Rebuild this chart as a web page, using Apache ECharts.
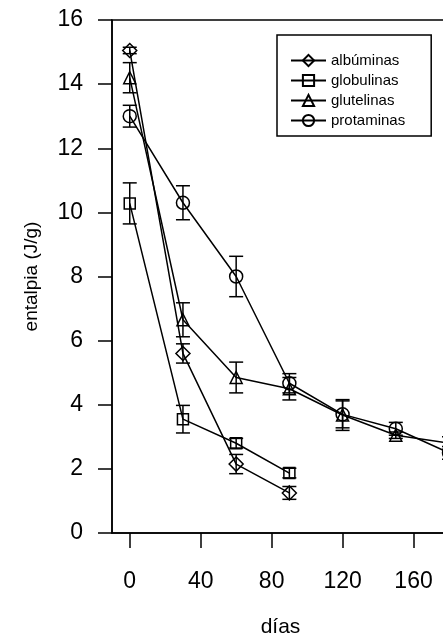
<!DOCTYPE html>
<html>
<head>
<meta charset="utf-8">
<script src="https://cdn.jsdelivr.net/npm/echarts@6/dist/echarts.min.js"></script>
<style>
html,body{margin:0;padding:0;background:#fff;}
#chart{width:443px;height:634px;}
</style>
</head>
<body>
<div id="chart"></div>
<script>
// ---- data ----
const days = [0, 30, 60, 90, 120, 150, 180];
const xTicks = [0, 40, 80, 120, 160];
const yTicks = [0, 2, 4, 6, 8, 10, 12, 14, 16];
const seriesNames = ['albúminas', 'globulinas', 'glutelinas', 'protaminas'];
const albuminas = [15.05, 5.6, 2.15, 1.25];
const albuminasErr = [0.1, 0.3, 0.3, 0.2];
const globulinas = [10.28, 3.55, 2.8, 1.87];
const globulinasErr = [0.64, 0.43, 0.15, 0.15];
const glutelinas = [14.2, 6.65, 4.85, 4.5, 3.68, 3.05, 2.8];
const glutelinasErr = [0.47, 0.53, 0.48, 0.35, 0.48, 0.1, 0.2];
const protaminas = [13.0, 10.3, 8.0, 4.67, 3.7, 3.25, 2.5];
const protaminasErr = [0.34, 0.53, 0.63, 0.3, 0.42, 0.2, 0.2];
const xName = 'días';
const yName = 'entalpia (J/g)';

const FONT = 'Liberation Sans';
const chart = echarts.init(document.getElementById('chart'), null, {renderer: 'canvas'});

function pts(vals) { return vals.map((v, i) => [days[i], v]); }
function errs(vals, e) { return vals.map((v, i) => [days[i], v - e[i], v + e[i]]); }

function errorSeries(vals, e) {
  return {
    type: 'custom',
    clip: true,
    silent: true,
    z: 1,
    data: errs(vals, e),
    renderItem: function (params, api) {
      const x = api.value(0);
      const p1 = api.coord([x, api.value(1)]);
      const p2 = api.coord([x, api.value(2)]);
      const w = 7;
      const st = {stroke: '#000', lineWidth: 1.5};
      return {
        type: 'group',
        children: [
          {type: 'line', shape: {x1: p1[0], y1: p1[1], x2: p2[0], y2: p2[1]}, style: st},
          {type: 'line', shape: {x1: p1[0] - w, y1: p1[1], x2: p1[0] + w, y2: p1[1]}, style: st},
          {type: 'line', shape: {x1: p2[0] - w, y1: p2[1], x2: p2[0] + w, y2: p2[1]}, style: st}
        ]
      };
    }
  };
}

function lineSeries(name, vals, symbol, size) {
  return {
    name: name,
    type: 'line',
    data: pts(vals),
    symbol: symbol,
    symbolSize: size,
    showAllSymbol: true,
    clip: true,
    z: 3,
    lineStyle: {color: '#000', width: 1.5},
    itemStyle: {color: 'rgba(255,255,255,0)', borderColor: '#000', borderWidth: 1.5},
    emphasis: {disabled: true}
  };
}

const option = {
  animation: false,
  backgroundColor: '#fff',
  grid: {
    left: 112, top: 20, bottom: 101, width: 337,
    outerBoundsMode: 'none',
    containLabel: false,
    show: true, borderColor: '#000', borderWidth: 1.5, backgroundColor: 'transparent'
  },
  legend: {
    orient: 'vertical',
    left: 277, top: 35,
    padding: [18, 26, 8, 13],
    itemGap: 5,
    itemWidth: 35,
    itemHeight: 14,
    borderColor: '#000',
    borderWidth: 1.5,
    backgroundColor: '#fff',
    textStyle: {fontFamily: FONT, fontSize: 15, color: '#000'},
    data: seriesNames
  },
  xAxis: {
    type: 'value',
    min: -10, max: 180,
    name: xName,
    nameLocation: 'middle',
    nameGap: 84,
    nameTextStyle: {fontFamily: FONT, fontSize: 21, color: '#000'},
    axisLine: {show: true, onZero: false, lineStyle: {color: '#000', width: 1.5}},
    axisTick: {show: true, length: 15, customValues: xTicks, lineStyle: {color: '#000', width: 1.5}},
    axisLabel: {customValues: xTicks, margin: 37, fontFamily: FONT, fontSize: 23, color: '#000'},
    splitLine: {show: false}
  },
  yAxis: {
    type: 'value',
    min: 0, max: 16, interval: 2,
    name: yName,
    nameLocation: 'middle',
    nameGap: 71,
    nameTextStyle: {fontFamily: FONT, fontSize: 19, color: '#000'},
    axisLine: {show: true, onZero: false, lineStyle: {color: '#000', width: 1.5}},
    axisTick: {show: true, length: 14, lineStyle: {color: '#000', width: 1.5}},
    axisLabel: {margin: 29, fontFamily: FONT, fontSize: 23, color: '#000',
      formatter: function (v) { return yTicks.indexOf(v) >= 0 ? String(v) : ''; }},
    splitLine: {show: false}
  },
  series: [
    errorSeries(albuminas, albuminasErr),
    errorSeries(globulinas, globulinasErr),
    errorSeries(glutelinas, glutelinasErr),
    errorSeries(protaminas, protaminasErr),
    lineSeries(seriesNames[0], albuminas, 'diamond', [14, 14]),
    lineSeries(seriesNames[1], globulinas, 'rect', [11, 11]),
    lineSeries(seriesNames[2], glutelinas, 'triangle', [12, 12]),
    lineSeries(seriesNames[3], protaminas, 'circle', [13, 13])
  ]
};
chart.setOption(option);
</script>
</body>
</html>
